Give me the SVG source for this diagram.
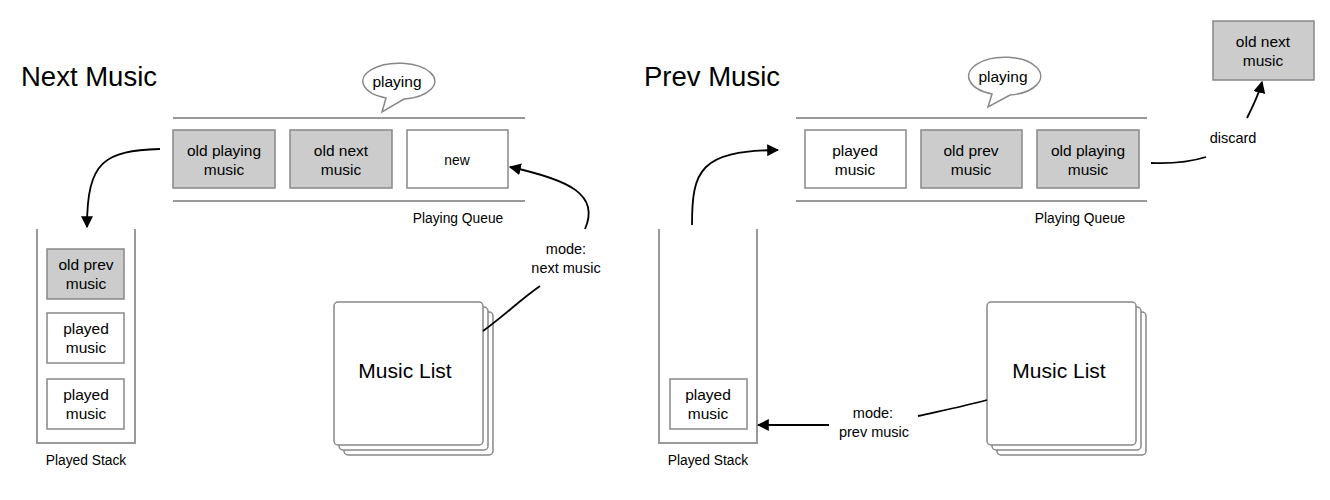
<svg xmlns="http://www.w3.org/2000/svg" width="1330" height="500" viewBox="0 0 1330 500">
<style>
text{font-family:"Liberation Sans",Arial,sans-serif;fill:#000;text-anchor:middle}
.title{font-size:27.5px;text-anchor:start}
.bt{font-size:15.5px}
.sm{font-size:13.8px}
.lbl{font-size:14.5px}
.big{font-size:21px}
.gray{fill:#cccccc;stroke:#888;stroke-width:1.5}
.white{fill:#fff;stroke:#888;stroke-width:1.5}
.rail{stroke:#999;stroke-width:2;fill:none}
.ml{fill:#fff;stroke:#888;stroke-width:1.5}
.bub{fill:#fff;stroke:#888;stroke-width:1.5}
.conn{fill:none;stroke:#000;stroke-width:1.8}
</style>
<defs>
<marker id="ah" viewBox="0 0 10 10" refX="9" refY="5" markerWidth="12" markerHeight="12" markerUnits="userSpaceOnUse" orient="auto">
<path d="M0,0 L10,5 L0,10 z" fill="#000"/>
</marker>
</defs>

<!-- Left: Next Music -->
<text class="title" x="21" y="86">Next Music</text>

<g id="queue-left">
<line class="rail" x1="173" y1="118" x2="525" y2="118"/>
<line class="rail" x1="173" y1="201" x2="525" y2="201"/>
<text class="sm" x="458" y="223">Playing Queue</text>
</g>
<g id="bubble-left">
<path class="bub" d="M386,98 A36,18 0 1 1 404,99 L382,112 Z"/>
<text class="bt" x="397" y="87">playing</text>
</g>
<g id="q1-old-playing">
<rect class="gray" x="173" y="130" width="102" height="58"/>
<text class="bt" x="224" y="156">old playing</text>
<text class="bt" x="224" y="175">music</text>
</g>
<g id="q1-old-next">
<rect class="gray" x="290" y="130" width="102" height="58"/>
<text class="bt" x="341" y="156">old next</text>
<text class="bt" x="341" y="175">music</text>
</g>
<g id="q1-new">
<rect class="white" x="407" y="130" width="101" height="58"/>
<text class="sm" x="457" y="165">new</text>
</g>

<g id="stack-left">
<path class="rail" d="M37,229 L37,443 L135,443 L135,229"/>
<text class="sm" x="86" y="465">Played Stack</text>
</g>
<g id="s1-old-prev">
<rect class="gray" x="47" y="249" width="77" height="50"/>
<text class="bt" x="86" y="270">old prev</text>
<text class="bt" x="86" y="289">music</text>
</g>
<g id="s1-played-1">
<rect class="white" x="47" y="313" width="77" height="50"/>
<text class="bt" x="86" y="334">played</text>
<text class="bt" x="86" y="353">music</text>
</g>
<g id="s1-played-2">
<rect class="white" x="47" y="379" width="77" height="50"/>
<text class="bt" x="86" y="400">played</text>
<text class="bt" x="86" y="419">music</text>
</g>

<g id="musiclist-left">
<rect class="ml" x="344" y="312" width="149" height="143" rx="4"/>
<rect class="ml" x="339" y="307" width="149" height="143" rx="4"/>
<rect class="ml" x="334" y="302" width="149" height="143" rx="4"/>
<text class="big" x="405" y="378">Music List</text>
</g>

<!-- Right: Prev Music -->
<text class="title" x="644" y="86">Prev Music</text>

<g id="queue-right">
<line class="rail" x1="796" y1="118" x2="1147" y2="118"/>
<line class="rail" x1="796" y1="201" x2="1147" y2="201"/>
<text class="sm" x="1080" y="223">Playing Queue</text>
</g>
<g id="bubble-right">
<path class="bub" d="M992,94 A36,19 0 1 1 1010,95 L988,107 Z"/>
<text class="bt" x="1003" y="82">playing</text>
</g>
<g id="q2-played">
<rect class="white" x="805" y="130" width="101" height="58"/>
<text class="bt" x="855" y="156">played</text>
<text class="bt" x="855" y="175">music</text>
</g>
<g id="q2-old-prev">
<rect class="gray" x="921" y="130" width="101" height="58"/>
<text class="bt" x="971" y="156">old prev</text>
<text class="bt" x="971" y="175">music</text>
</g>
<g id="q2-old-playing">
<rect class="gray" x="1037" y="130" width="102" height="58"/>
<text class="bt" x="1088" y="156">old playing</text>
<text class="bt" x="1088" y="175">music</text>
</g>
<g id="old-next-discarded">
<rect class="gray" x="1213" y="21" width="101" height="59"/>
<text class="bt" x="1263" y="47">old next</text>
<text class="bt" x="1263" y="66">music</text>
</g>

<g id="stack-right">
<path class="rail" d="M659,229 L659,443 L757,443 L757,229"/>
<text class="sm" x="708" y="465">Played Stack</text>
</g>
<g id="s2-played">
<rect class="white" x="670" y="379" width="77" height="50"/>
<text class="bt" x="708" y="400">played</text>
<text class="bt" x="708" y="419">music</text>
</g>

<g id="musiclist-right">
<rect class="ml" x="997" y="312" width="149" height="143" rx="4"/>
<rect class="ml" x="992" y="307" width="149" height="143" rx="4"/>
<rect class="ml" x="987" y="302" width="149" height="143" rx="4"/>
<text class="big" x="1059" y="378">Music List</text>
</g>

<g id="connectors">
<path class="conn" d="M160,149 C105,151 87,160 87,227" marker-end="url(#ah)"/>
<path class="conn" d="M483,331 C505,315 520,300 540,286"/>
<path class="conn" d="M585,229 C600,195 570,180 510,167" marker-end="url(#ah)"/>
<text class="lbl" x="566" y="254">mode:</text>
<text class="lbl" x="566" y="273">next music</text>

<path class="conn" d="M692,225 C692,170 700,151 778,150" marker-end="url(#ah)"/>
<path class="conn" d="M1151,163 C1175,164 1190,162 1206,157"/>
<text class="lbl" x="1233" y="143">discard</text>
<path class="conn" d="M1247,118 C1254,104 1259,94 1262,82" marker-end="url(#ah)"/>

<path class="conn" d="M829,425 L758,425" marker-end="url(#ah)"/>
<text class="lbl" x="873" y="418">mode:</text>
<text class="lbl" x="874" y="437">prev music</text>
<path class="conn" d="M918,416 C945,410 965,406 987,400"/>
</g>
</svg>
